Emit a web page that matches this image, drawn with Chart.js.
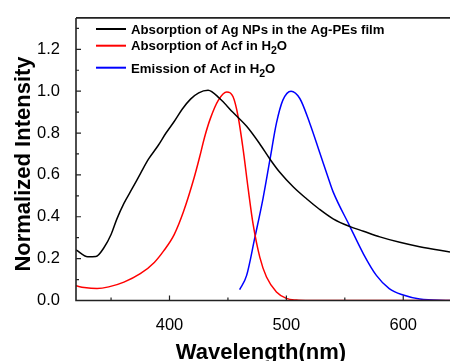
<!DOCTYPE html>
<html>
<head>
<meta charset="utf-8">
<script src="https://cdn.jsdelivr.net/npm/chart.js@4/dist/chart.umd.min.js"></script>
<style>
    body { margin: 0; background: #fff; }
    #chart { display: block; }
</style>
</head>
<body>
<canvas id="chart" width="450" height="361"></canvas>
<script>
// Ag NPs film absorption (black)
const agX = [320, 330, 337, 344, 350, 355, 361, 368, 375, 382, 390, 397, 404, 411, 418, 425, 433, 443, 454, 466, 477, 486, 494, 506, 517, 528, 540, 554, 566, 580, 597, 614, 640];
const agY = [0.242, 0.209, 0.21, 0.253, 0.315, 0.39, 0.464, 0.534, 0.605, 0.675, 0.738, 0.80, 0.855, 0.915, 0.962, 0.992, 1.004, 0.965, 0.90, 0.832, 0.75, 0.675, 0.615, 0.542, 0.487, 0.437, 0.39, 0.354, 0.331, 0.304, 0.278, 0.257, 0.232];

// Acf absorption in water (red)
const absX = [320, 327, 338, 348, 361, 375, 387, 395, 404, 412, 421, 426, 430, 435, 441.6, 449, 454.4, 458.7, 463, 467.3, 471.6, 477.3, 483, 491.5, 500, 508.5, 520, 640];
const absY = [0.07, 0.062, 0.057, 0.065, 0.088, 0.128, 0.182, 0.237, 0.315, 0.425, 0.585, 0.69, 0.78, 0.87, 0.955, 0.996, 0.973, 0.879, 0.722, 0.534, 0.362, 0.206, 0.112, 0.041, 0.01, 0.002, 0, 0];

// Acf emission in water (blue)
const emX = [460, 466, 473, 480, 486, 491.5, 497, 504, 511.5, 520, 528.5, 537, 540, 554, 566, 577, 588, 600, 614, 640];
const emY = [0.052, 0.12, 0.30, 0.487, 0.675, 0.847, 0.957, 1.0, 0.965, 0.847, 0.707, 0.566, 0.519, 0.358, 0.222, 0.12, 0.057, 0.026, 0.007, 0.0];

const xTicks = [400, 500, 600];
const xMinor = [350, 450, 550];
const yTicks = [0, 0.2, 0.4, 0.6, 0.8, 1.0, 1.2];
const yMinor = [0.1, 0.3, 0.5, 0.7, 0.9, 1.1, 1.3];

// legend rows: [before subscript, subscript, after]
const legendRows = [
    ['Absorption of Ag NPs in the Ag-PEs film', '', ''],
    ['Absorption of Acf in H', '2', 'O'],
    ['Emission of Acf in H', '2', 'O'],
];
const colors = ['#000000', '#ff0000', '#0000ff'];

const FONT = '"Liberation Sans", Arial, sans-serif';

function toPoints(xs, ys) {
    return xs.map((x, i) => ({ x: x, y: ys[i] }));
}

// axes frame, inward ticks, titles and legend
const frame = {
    id: 'frame',
    afterDatasetsDraw(chart) {
        const ctx = chart.ctx;
        const a = chart.chartArea;
        const xs = chart.scales.x;
        const ys = chart.scales.y;
        ctx.save();
        ctx.strokeStyle = '#222';
        ctx.lineWidth = 1.6;
        ctx.beginPath();
        ctx.moveTo(a.left, a.top);
        ctx.lineTo(a.left, a.bottom);
        ctx.lineTo(a.right + 2, a.bottom);
        ctx.moveTo(a.left, a.top);
        ctx.lineTo(a.right + 2, a.top);
        ctx.stroke();

        ctx.lineWidth = 1.2;
        ctx.beginPath();
        xTicks.forEach(v => { const p = xs.getPixelForValue(v); ctx.moveTo(p, a.bottom); ctx.lineTo(p, a.bottom - 5); });
        xMinor.forEach(v => { const p = xs.getPixelForValue(v); ctx.moveTo(p, a.bottom); ctx.lineTo(p, a.bottom - 3); });
        yTicks.forEach(v => { const p = ys.getPixelForValue(v); ctx.moveTo(a.left, p); ctx.lineTo(a.left + 5, p); });
        yMinor.forEach(v => { const p = ys.getPixelForValue(v); ctx.moveTo(a.left, p); ctx.lineTo(a.left + 3, p); });
        ctx.stroke();

        // axis titles
        ctx.fillStyle = '#000';
        ctx.font = 'bold 22px ' + FONT;
        ctx.textAlign = 'center';
        ctx.textBaseline = 'alphabetic';
        ctx.fillText('Wavelength(nm)', 261, 359);
        ctx.save();
        ctx.translate(30, 164);
        ctx.rotate(-Math.PI / 2);
        ctx.fillText('Normalized Intensity', 0, 0);
        ctx.restore();

        // legend
        const lineY = [29, 45.7, 67.7];
        const baseY = [33.5, 50, 72.5];
        ctx.textAlign = 'left';
        legendRows.forEach((row, i) => {
            ctx.strokeStyle = colors[i];
            ctx.lineWidth = 2;
            ctx.beginPath();
            ctx.moveTo(96, lineY[i]);
            ctx.lineTo(126, lineY[i]);
            ctx.stroke();
            ctx.font = 'bold 13.2px ' + FONT;
            let x = 131;
            ctx.fillText(row[0], x, baseY[i]);
            x += ctx.measureText(row[0]).width;
            if (row[1]) {
                ctx.font = 'bold 10.5px ' + FONT;
                ctx.fillText(row[1], x, baseY[i] + 4);
                x += ctx.measureText(row[1]).width;
                ctx.font = 'bold 13.2px ' + FONT;
                ctx.fillText(row[2], x, baseY[i]);
            }
        });
        ctx.restore();
    }
};

const lineStyle = {
    borderWidth: 1.5,
    pointRadius: 0,
    fill: false,
    cubicInterpolationMode: 'monotone',
};

new Chart(document.getElementById('chart'), {
    type: 'line',
    data: {
        datasets: [
            Object.assign({ label: 'Ag NPs', data: toPoints(agX, agY), borderColor: colors[0] }, lineStyle),
            Object.assign({ label: 'Acf abs', data: toPoints(absX, absY), borderColor: colors[1] }, lineStyle),
            Object.assign({ label: 'Acf em', data: toPoints(emX, emY), borderColor: colors[2] }, lineStyle),
        ],
    },
    options: {
        responsive: false,
        devicePixelRatio: 1,
        animation: false,
        layout: { padding: { top: 13, right: 0, bottom: 0, left: 0 } },
        plugins: { legend: { display: false }, tooltip: { enabled: false } },
        scales: {
            x: {
                type: 'linear',
                min: 320,
                max: 640,
                grid: { display: false },
                border: { display: false },
                afterBuildTicks: s => { s.ticks = xTicks.map(v => ({ value: v })); },
                afterFit: s => { s.height = 60.5; },
                ticks: { color: '#000', padding: 7, font: { family: FONT, size: 16.5 } },
            },
            y: {
                min: 0,
                max: 1.35,
                grid: { display: false },
                border: { display: false },
                afterBuildTicks: s => { s.ticks = yTicks.map(v => ({ value: v })); },
                afterFit: s => { s.width = 76; },
                ticks: { color: '#000', padding: 8, font: { family: FONT, size: 16.5 }, callback: v => v.toFixed(1) },
            },
        },
    },
    plugins: [frame],
});
</script>
</body>
</html>
